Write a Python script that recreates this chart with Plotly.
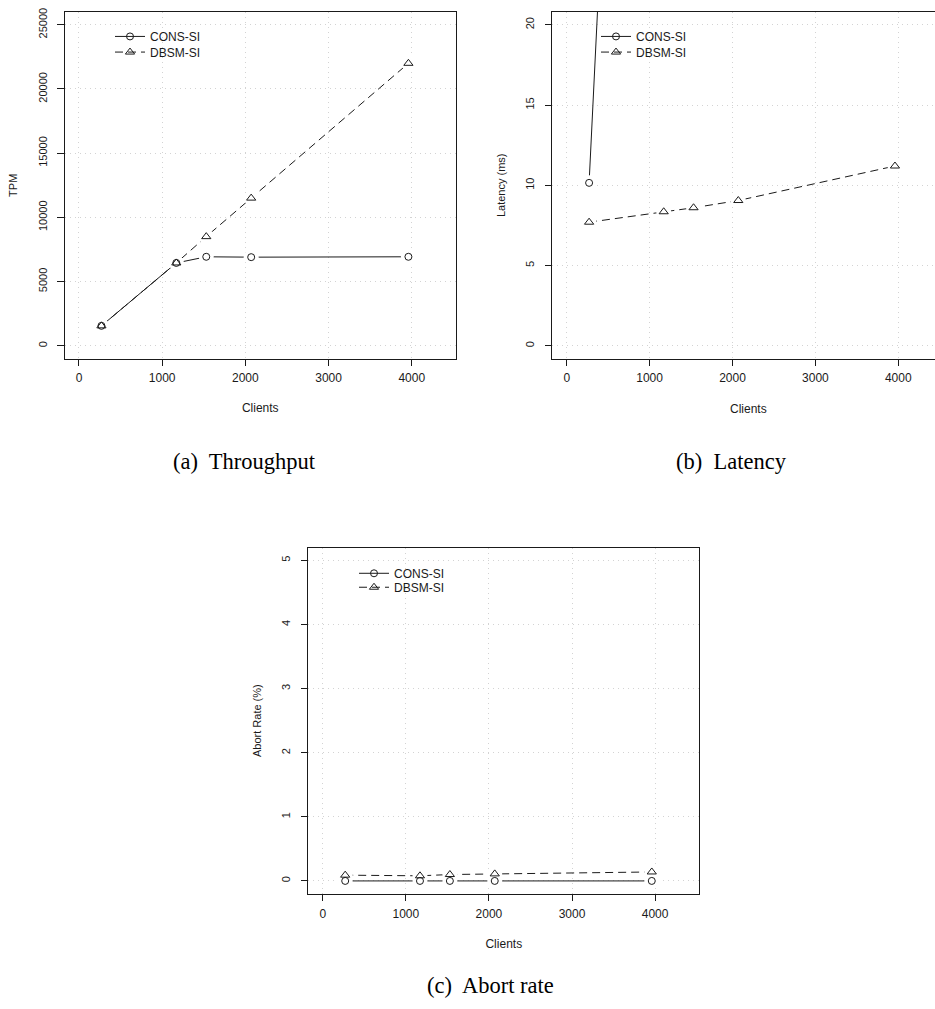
import plotly.graph_objects as go

# Measured workload: number of clients per run
clients = [270, 1170, 1530, 2070, 3960]
x_ticks = [0, 1000, 2000, 3000, 4000]

# Throughput (transactions per minute)
tpm_cons = [1550, 6450, 6930, 6900, 6930]
tpm_dbsm = [1550, 6450, 8500, 11500, 22000]
tpm_ticks = [0, 5000, 10000, 15000, 20000, 25000]

# Latency (ms)
lat_cons = [10.15, 105, 290, 560, 1650]
lat_dbsm = [7.7, 8.35, 8.6, 9.05, 11.2]
lat_ticks = [0, 5, 10, 15, 20]

# Abort rate (%)
abort_cons = [0, 0, 0, 0, 0]
abort_dbsm = [0.09, 0.08, 0.10, 0.11, 0.14]
abort_ticks = [0, 1, 2, 3, 4, 5]

series_names = ["CONS-SI", "DBSM-SI"]

W, H = 935, 1009
SANS = "Liberation Sans, Arial, sans-serif"
SERIF = "Liberation Serif, Times New Roman, serif"
INK = "#1a1a1a"
GRID = "#d3d3d3"
DASH = "8px,5px"


def fx(p):
    return p / W


def fy(p):
    return 1 - p / H


fig = go.Figure()

styles = [
    dict(dash="solid", symbol="circle-open", size=7),
    dict(dash=DASH, symbol="triangle-up-open", size=8),
]

legend_ids = iter(["legend", "legend2", "legend3", "legend4", "legend5",
                   "legend6"])


def add_panel(xa, ya, values):
    xref = "x" + ("" if xa == 1 else str(xa))
    yref = "y" + ("" if ya == 1 else str(ya))
    # connecting lines
    for vals, st in zip(values, styles):
        fig.add_trace(go.Scatter(
            x=clients, y=vals, mode="lines", xaxis=xref, yaxis=yref,
            line=dict(color=INK, width=1, dash=st["dash"]),
            showlegend=False, hoverinfo="skip"))
    # white halo so lines stop short of the points
    for vals in values:
        fig.add_trace(go.Scatter(
            x=clients, y=vals, mode="markers", xaxis=xref, yaxis=yref,
            marker=dict(symbol="circle", size=15, color="white",
                        line=dict(width=0)),
            showlegend=False, hoverinfo="skip"))
    # point symbols
    for vals, st, name in zip(values, styles, series_names):
        fig.add_trace(go.Scatter(
            x=clients, y=vals, mode="markers", xaxis=xref, yaxis=yref,
            marker=dict(symbol=st["symbol"], size=st["size"], color=INK,
                        line=dict(width=1, color=INK)),
            name=name, showlegend=False))
    # legend entries, one legend box per row
    for st, name in zip(styles, series_names):
        fig.add_trace(go.Scatter(
            x=[None], y=[None], mode="lines+markers", xaxis=xref, yaxis=yref,
            line=dict(color=INK, width=1, dash=st["dash"]),
            marker=dict(symbol=st["symbol"], size=st["size"], color=INK,
                        line=dict(width=1, color=INK)),
            name=name, legend=next(legend_ids), showlegend=True))


add_panel(1, 1, [tpm_cons, tpm_dbsm])
add_panel(2, 2, [lat_cons, lat_dbsm])
add_panel(3, 3, [abort_cons, abort_dbsm])


def xaxis(dom, rng, anchor, title=None):
    d = dict(
        domain=[fx(dom[0]), fx(dom[1])], range=rng, anchor=anchor,
        tickmode="array", tickvals=x_ticks, ticktext=[str(v) for v in x_ticks],
        ticks="outside", ticklen=6.5, tickwidth=1, tickcolor=INK,
        ticklabelstandoff=2,
        showline=True, linecolor=INK, linewidth=1, mirror=True,
        showgrid=True, gridcolor=GRID, gridwidth=1, griddash="1px,4px",
        zeroline=False, tickfont=dict(family=SANS, size=12, color=INK),
    )
    if title:
        d["title"] = dict(text=title, font=dict(family=SANS, size=12, color=INK),
                          standoff=19)
    return d


def yaxis(dom, rng, anchor, ticks, title, mirror=True):
    return dict(
        domain=[fy(dom[1]), fy(dom[0])], range=rng, anchor=anchor,
        tickmode="array", tickvals=ticks, ticktext=[str(v) for v in ticks],
        tickangle=-90,
        ticks="outside", ticklen=6.5, tickwidth=1, tickcolor=INK,
        ticklabelstandoff=6,
        showline=True, linecolor=INK, linewidth=1, mirror=mirror,
        showgrid=True, gridcolor=GRID, gridwidth=1, griddash="1px,4px",
        zeroline=False, tickfont=dict(family=SANS, size=11, color=INK),
        title=dict(text=title, font=dict(family=SANS, size=11, color=INK),
                   standoff=16),
    )


legend_common = dict(
    font=dict(family=SANS, size=12, color=INK), bgcolor="rgba(0,0,0,0)",
    borderwidth=0, xanchor="left", yanchor="top", itemwidth=30,
)

# legend row centres (px) for each panel
LEG_OFF = 17
fig.update_layout(
    width=W, height=H, margin=dict(l=0, r=0, t=0, b=0),
    paper_bgcolor="white", plot_bgcolor="white",
    xaxis=xaxis((64.5, 456), [-174, 4532], "y", title="Clients"),
    yaxis=yaxis((8, 356), [-1000, 26000], "x", tpm_ticks, "TPM"),
    xaxis2=xaxis((552.3, 935), [-174, 4443], "y2"),
    yaxis2=yaxis((8, 356), [-0.8, 20.8], "x2", lat_ticks, "Latency (ms)",
                 mirror=False),
    xaxis3=xaxis((308.3, 699.3), [-174, 4532], "y3", title="Clients"),
    yaxis3=yaxis((545.7, 893.3), [-0.2, 5.2], "x3", abort_ticks,
                 "Abort Rate (%)"),
    legend=dict(legend_common, x=fx(110), y=fy(35 - LEG_OFF)),
    legend2=dict(legend_common, x=fx(110), y=fy(50.7 - LEG_OFF)),
    legend3=dict(legend_common, x=fx(596), y=fy(35 - LEG_OFF)),
    legend4=dict(legend_common, x=fx(596), y=fy(50.7 - LEG_OFF)),
    legend5=dict(legend_common, x=fx(354), y=fy(574 - LEG_OFF)),
    legend6=dict(legend_common, x=fx(354), y=fy(588 - LEG_OFF)),
    showlegend=True,
)

annotations = [
    dict(text="Clients", x=fx(748), y=fy(406.7), xref="paper", yref="paper",
         showarrow=False, xanchor="center", yanchor="middle",
         font=dict(family=SANS, size=12, color=INK)),
    dict(text="(a)  Throughput", x=fx(244), y=fy(459), xref="paper",
         yref="paper", showarrow=False, xanchor="center", yanchor="middle",
         font=dict(family=SERIF, size=22.5, color="black")),
    dict(text="(b)  Latency", x=fx(731), y=fy(459), xref="paper",
         yref="paper", showarrow=False, xanchor="center", yanchor="middle",
         font=dict(family=SERIF, size=22.5, color="black")),
    dict(text="(c)  Abort rate", x=fx(490), y=fy(985), xref="paper",
         yref="paper", showarrow=False, xanchor="center", yanchor="middle",
         font=dict(family=SERIF, size=22.5, color="black")),
]
fig.update_layout(annotations=annotations)

fig.write_html("out.html")
